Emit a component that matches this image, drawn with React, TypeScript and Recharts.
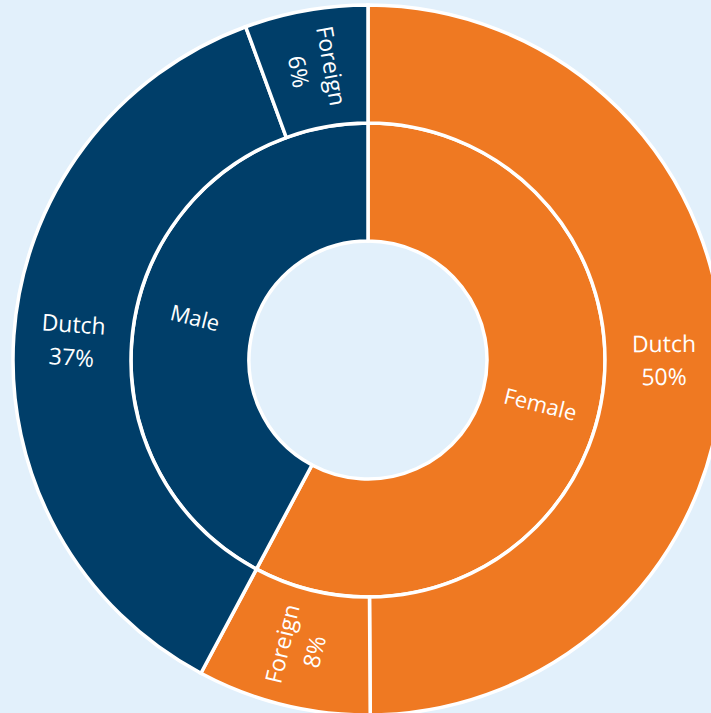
import React from "react";
import { Cell, Pie, PieChart } from "recharts";

const ORANGE = "#EF7922";
const NAVY = "#003E69";
const BG = "#E2F0FB";

const genders = ["Female", "Male"];
const genderColors = [ORANGE, NAVY];

const origins = ["Dutch", "Foreign", "Dutch", "Foreign"];
const originGender = ["Female", "Female", "Male", "Male"];
const originValues = [49.9, 7.9, 36.6, 5.6];

const innerData = genders.map((g) => ({
  name: g,
  value: originValues.reduce((s, v, i) => (originGender[i] === g ? s + v : s), 0),
}));

const outerData = origins.map((o, i) => ({
  name: o,
  gender: originGender[i],
  value: originValues[i],
}));

const CX = 368;
const CY = 360;
const R0 = 119;
const R1 = 237;
const R2 = 355;
const FONT = "'Open Sans', 'Noto Sans', sans-serif";

function place(props: any) {
  const theta = (((90 - props.midAngle) % 360) + 360) % 360;
  const r = (props.innerRadius + props.outerRadius) / 2;
  const t = (theta * Math.PI) / 180;
  const x = props.cx + r * Math.sin(t);
  const y = props.cy - r * Math.cos(t);
  const rot = theta < 180 ? theta - 90 : theta - 270;
  return { x, y, rot };
}

function innerLabel(props: any) {
  const { x, y, rot } = place(props);
  return (
    <text
      transform={`translate(${x},${y}) rotate(${rot})`}
      textAnchor="middle"
      dominantBaseline="central"
      fill="#fff"
      style={{ fontSize: 22, fontFamily: FONT }}
    >
      {props.name}
    </text>
  );
}

function outerLabel(props: any) {
  const { x, y, rot } = place(props);
  return (
    <text
      transform={`translate(${x},${y}) rotate(${rot})`}
      textAnchor="middle"
      dominantBaseline="central"
      fill="#fff"
      style={{ fontSize: 23, fontFamily: FONT }}
    >
      <tspan x={0} y={-16}>
        {props.name}
      </tspan>
      <tspan x={0} y={17}>
        {Math.round(props.value)}%
      </tspan>
    </text>
  );
}

export default function App() {
  return (
    <div style={{ position: "absolute", left: 0, top: 0, width: 711, height: 713, background: BG, overflow: "hidden" }}>
      <PieChart width={711} height={713} margin={{ top: 0, right: 0, bottom: 0, left: 0 }}>
        <Pie
          data={innerData}
          dataKey="value"
          nameKey="name"
          cx={CX}
          cy={CY}
          innerRadius={R0}
          outerRadius={R1}
          startAngle={90}
          endAngle={-270}
          stroke="#fff"
          strokeWidth={3.5}
          label={innerLabel}
          labelLine={false}
          isAnimationActive={false}
        >
          {innerData.map((d, i) => (
            <Cell key={i} fill={genderColors[i]} />
          ))}
        </Pie>
        <Pie
          data={outerData}
          dataKey="value"
          nameKey="name"
          cx={CX}
          cy={CY}
          innerRadius={R1}
          outerRadius={R2}
          startAngle={90}
          endAngle={-270}
          stroke="#fff"
          strokeWidth={3.5}
          label={outerLabel}
          labelLine={false}
          isAnimationActive={false}
        >
          {outerData.map((d, i) => (
            <Cell key={i} fill={genderColors[genders.indexOf(d.gender)]} />
          ))}
        </Pie>
      </PieChart>
    </div>
  );
}
